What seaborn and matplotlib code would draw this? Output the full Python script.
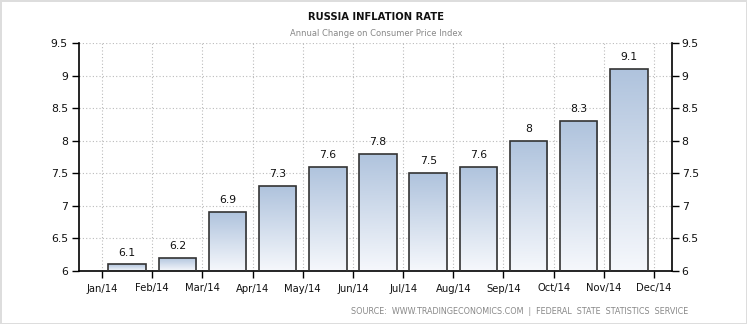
import numpy as np
import pandas as pd
import matplotlib
matplotlib.use("Agg")
import matplotlib.pyplot as plt
import seaborn as sns
from matplotlib.colors import LinearSegmentedColormap
from matplotlib.patches import Rectangle

months = ["Jan/14", "Feb/14", "Mar/14", "Apr/14", "May/14", "Jun/14",
          "Jul/14", "Aug/14", "Sep/14", "Oct/14", "Nov/14"]
tick_labels = ["Jan/14", "Feb/14", "Mar/14", "Apr/14", "May/14", "Jun/14",
               "Jul/14", "Aug/14", "Sep/14", "Oct/14", "Nov/14", "Dec/14"]
values = [6.1, 6.2, 6.9, 7.3, 7.6, 7.8, 7.5, 7.6, 8.0, 8.3, 9.1]
y_ticks = [6, 6.5, 7, 7.5, 8, 8.5, 9, 9.5]

df = pd.DataFrame({"month": months, "value": values})

sns.set_theme(style="white")
plt.rcParams["font.family"] = ["DejaVu Sans"]

YMIN, YMAX = 6, 9.5
XMIN, XMAX = -0.96, 10.86

fig = plt.figure(figsize=(7.47, 3.24), dpi=100)
fig.patch.set_facecolor("white")
fig.patch.set_edgecolor("#dddddd")
fig.patch.set_linewidth(2)
ax = fig.add_axes([79/747, 1 - 271/324, (672 - 79)/747, (271 - 43)/324])

sns.barplot(data=df, x="month", y="value", ax=ax, width=0.75,
            color="#b0c4de", edgecolor="#333333", linewidth=1.2, zorder=3)

# gradient fill
cmap = LinearSegmentedColormap.from_list("g", ["#f6f8fc", "#afc3dd"])
grad = np.linspace(0, 1, 256).reshape(-1, 1)
for p in ax.patches:
    x0, w, h = p.get_x(), p.get_width(), p.get_height()
    p.set_facecolor("none")
    im = ax.imshow(grad, cmap=cmap, aspect="auto", origin="lower",
                   extent=[x0, x0 + w, YMIN, h], zorder=2.5,
                   interpolation="bicubic")
    clip = Rectangle((x0, YMIN), w, h - YMIN, transform=ax.transData)
    im.set_clip_path(clip)
ax.set_xlim(XMIN, XMAX)
ax.set_ylim(YMIN, YMAX)

# value labels
for i, v in enumerate(values):
    ax.annotate(f"{v:g}", (i, v), xytext=(0, 5), textcoords="offset points",
                ha="center", va="bottom", fontsize=7.8, color="#111111", zorder=5)

tick_pos = [i - 0.5 for i in range(len(tick_labels))]
ax.set_xticks(tick_pos)
ax.set_xticklabels(tick_labels)
ax.set_xlabel("")
ax.set_ylabel("")
ax.set_yticks(y_ticks)
ax.set_yticklabels([f"{t:g}" for t in y_ticks])

ax.grid(True, linestyle=(0, (1, 2)), color="#bbbbbb", linewidth=0.8, zorder=0)
ax.set_axisbelow(True)

for s in ["top", "right"]:
    ax.spines[s].set_visible(False)
for s in ["left", "bottom"]:
    ax.spines[s].set_color("black")
    ax.spines[s].set_linewidth(1.2)
ax.tick_params(axis="x", direction="out", length=5, width=1, color="black",
               bottom=True, pad=4, labelsize=7.2, labelcolor="#111111")
ax.tick_params(axis="y", direction="out", length=5, width=1, color="black",
               left=True, pad=3, labelsize=7.8, labelcolor="#111111")

ax2 = ax.twinx()
ax2.set_ylim(YMIN, YMAX)
ax2.set_yticks(y_ticks)
ax2.set_yticklabels([f"{t:g}" for t in y_ticks])
for s in ["top", "left", "bottom"]:
    ax2.spines[s].set_visible(False)
ax2.spines["right"].set_color("black")
ax2.spines["right"].set_linewidth(1.2)
ax2.tick_params(axis="y", direction="out", length=5, width=1, color="black",
                right=True, pad=2, labelsize=7.8, labelcolor="#111111")
ax2.grid(False)

fig.text(376/747, 1 - 17/324, "RUSSIA INFLATION RATE", ha="center", va="center",
         fontsize=7.2, color="#111111", fontweight="bold")
fig.text(376/747, 1 - 34/324, "Annual Change on Consumer Price Index", ha="center",
         va="center", fontsize=6, color="#888888")
fig.text(688/747, 1 - 312/324,
         "SOURCE:  WWW.TRADINGECONOMICS.COM  |  FEDERAL  STATE  STATISTICS  SERVICE",
         ha="right", va="center", fontsize=5.8, color="#888888")

fig.savefig("out.png", dpi=100, facecolor=fig.get_facecolor(), edgecolor=fig.get_edgecolor())
